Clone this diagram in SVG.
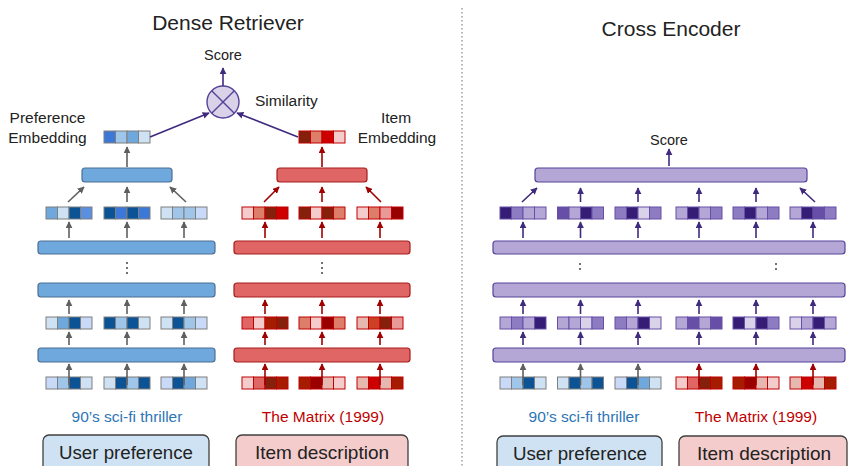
<svg xmlns="http://www.w3.org/2000/svg" width="849" height="466" viewBox="0 0 849 466">
<style>
text{font-family:"Liberation Sans",Arial,sans-serif;fill:#222}
.t{font-size:21px;text-anchor:middle}
.l{font-size:15.5px}
.m{text-anchor:middle}
.bb{fill:#6fa8dc;stroke:#4d6f94;stroke-width:1.2}
.rb{fill:#e06666;stroke:#a61c1c;stroke-width:1.2}
.pb{fill:#b4a7d6;stroke:#55439a;stroke-width:1.2}
.tb rect{stroke:#7f7f7f;stroke-width:1}
.tr rect{stroke:#c00000;stroke-width:1}
.tp rect{stroke:#674ea7;stroke-width:1}
.ag{stroke:#5f5f5f;stroke-width:1.6;fill:none;marker-end:url(#mg)}
.ar{stroke:#a00000;stroke-width:1.6;fill:none;marker-end:url(#mr)}
.ap{stroke:#3f2a7e;stroke-width:1.6;fill:none;marker-end:url(#mp)}
.dot{fill:#444}
</style>
<defs>
<marker id="mg" viewBox="0 0 10 10" refX="9" refY="5" markerWidth="7" markerHeight="7" markerUnits="userSpaceOnUse" orient="auto"><path d="M0,0L10,5L0,10z" fill="#5f5f5f"/></marker>
<marker id="mr" viewBox="0 0 10 10" refX="9" refY="5" markerWidth="7" markerHeight="7" markerUnits="userSpaceOnUse" orient="auto"><path d="M0,0L10,5L0,10z" fill="#a00000"/></marker>
<marker id="mp" viewBox="0 0 10 10" refX="9" refY="5" markerWidth="7" markerHeight="7" markerUnits="userSpaceOnUse" orient="auto"><path d="M0,0L10,5L0,10z" fill="#3f2a7e"/></marker>
<g id="cells"><rect x="0" y="0" width="11.5" height="12"/><rect x="11.5" y="0" width="11.5" height="12"/><rect x="23" y="0" width="11.5" height="12"/><rect x="34.5" y="0" width="11.5" height="12"/></g>
</defs>

<!-- separator -->
<line x1="462" y1="8" x2="462" y2="466" stroke="#8a8a8a" stroke-width="1.2" stroke-dasharray="1.5 2.5"/>

<!-- titles -->
<text class="t" x="228" y="30">Dense Retriever</text>
<text class="t" x="671" y="36">Cross Encoder</text>

<!-- ===== Dense retriever ===== -->
<g id="score-left"><text class="l m" x="223" y="60" style="font-size:14.5px">Score</text></g>
<g id="similarity">
<circle cx="223" cy="102" r="16" fill="#d9d2e9" stroke="#55439a" stroke-width="1.4"/>
<line x1="211.7" y1="90.7" x2="234.3" y2="113.3" stroke="#55439a" stroke-width="1.4"/>
<line x1="234.3" y1="90.7" x2="211.7" y2="113.3" stroke="#55439a" stroke-width="1.4"/>
<text class="l" x="255" y="106">Similarity</text>
</g>
<g id="pref-emb">
<text class="l m" x="47.5" y="123">Preference</text>
<text class="l m" x="47.5" y="143">Embedding</text>
<g class="tb" transform="translate(104,131)"><rect x="0" width="11.5" height="12" fill="#3c78d8"/><rect x="11.5" width="11.5" height="12" fill="#9fc5e8"/><rect x="23" width="11.5" height="12" fill="#6fa8dc"/><rect x="34.5" width="11.5" height="12" fill="#cfe2f3"/></g>
</g>
<g id="item-emb">
<text class="l m" x="396" y="123">Item</text>
<text class="l m" x="397" y="143">Embedding</text>
<g class="tr" transform="translate(299,131)"><rect x="0" width="11.5" height="12" fill="#85200c"/><rect x="11.5" width="11.5" height="12" fill="#dd7e6b"/><rect x="23" width="11.5" height="12" fill="#cc0000"/><rect x="34.5" width="11.5" height="12" fill="#f4cccc"/></g>
</g>

<!-- blue encoder -->
<g id="blue-pool"><rect class="bb" x="82" y="168" width="90" height="14" rx="3"/></g>
<g id="blue-row1">
<g class="tb" transform="translate(46,207)"><rect x="0" width="11.5" height="12" fill="#6fa8dc"/><rect x="11.5" width="11.5" height="12" fill="#cfe2f3"/><rect x="23" width="11.5" height="12" fill="#0b5394"/><rect x="34.5" width="11.5" height="12" fill="#5b8fe0"/></g>
<g class="tb" transform="translate(104,207)"><rect x="0" width="11.5" height="12" fill="#0b5394"/><rect x="11.5" width="11.5" height="12" fill="#3c78d8"/><rect x="23" width="11.5" height="12" fill="#0b5394"/><rect x="34.5" width="11.5" height="12" fill="#3c78d8"/></g>
<g class="tb" transform="translate(161,207)"><rect x="0" width="11.5" height="12" fill="#cfe2f3"/><rect x="11.5" width="11.5" height="12" fill="#9fc5e8"/><rect x="23" width="11.5" height="12" fill="#9fc5e8"/><rect x="34.5" width="11.5" height="12" fill="#c9daf8"/></g>
</g>
<g id="blue-bar1"><rect class="bb" x="38" y="241" width="177" height="13" rx="3"/></g>
<g id="blue-dots"><circle class="dot" cx="127" cy="263" r="1"/><circle class="dot" cx="127" cy="268" r="1"/><circle class="dot" cx="127" cy="273" r="1"/></g>
<g id="blue-bar2"><rect class="bb" x="38" y="283" width="177" height="14" rx="3"/></g>
<g id="blue-row2">
<g class="tb" transform="translate(46,317)"><rect x="0" width="11.5" height="12" fill="#cfe2f3"/><rect x="11.5" width="11.5" height="12" fill="#6fa8dc"/><rect x="23" width="11.5" height="12" fill="#0b5394"/><rect x="34.5" width="11.5" height="12" fill="#c9daf8"/></g>
<g class="tb" transform="translate(104,317)"><rect x="0" width="11.5" height="12" fill="#0b5394"/><rect x="11.5" width="11.5" height="12" fill="#9fc5e8"/><rect x="23" width="11.5" height="12" fill="#0b5394"/><rect x="34.5" width="11.5" height="12" fill="#cfe2f3"/></g>
<g class="tb" transform="translate(161,317)"><rect x="0" width="11.5" height="12" fill="#cfe2f3"/><rect x="11.5" width="11.5" height="12" fill="#0b5394"/><rect x="23" width="11.5" height="12" fill="#9fc5e8"/><rect x="34.5" width="11.5" height="12" fill="#c9daf8"/></g>
</g>
<g id="blue-bar3"><rect class="bb" x="38" y="348" width="177" height="14" rx="3"/></g>
<g id="blue-input">
<g class="tb" transform="translate(46,377)"><rect x="0" width="11.5" height="12" fill="#c9daf8"/><rect x="11.5" width="11.5" height="12" fill="#9fc5e8"/><rect x="23" width="11.5" height="12" fill="#0b5394"/><rect x="34.5" width="11.5" height="12" fill="#cfe2f3"/></g>
<g class="tb" transform="translate(104,377)"><rect x="0" width="11.5" height="12" fill="#cfe2f3"/><rect x="11.5" width="11.5" height="12" fill="#0b5394"/><rect x="23" width="11.5" height="12" fill="#9fc5e8"/><rect x="34.5" width="11.5" height="12" fill="#0b5394"/></g>
<g class="tb" transform="translate(161,377)"><rect x="0" width="11.5" height="12" fill="#c9daf8"/><rect x="11.5" width="11.5" height="12" fill="#0b5394"/><rect x="23" width="11.5" height="12" fill="#6fa8dc"/><rect x="34.5" width="11.5" height="12" fill="#cfe2f3"/></g>
</g>

<!-- red encoder -->
<g id="red-pool"><rect class="rb" x="277" y="168" width="90" height="14" rx="3"/></g>
<g id="red-row1">
<g class="tr" transform="translate(242,207)"><rect x="0" width="11.5" height="12" fill="#f4cccc"/><rect x="11.5" width="11.5" height="12" fill="#dd7e6b"/><rect x="23" width="11.5" height="12" fill="#85200c"/><rect x="34.5" width="11.5" height="12" fill="#cc0000"/></g>
<g class="tr" transform="translate(299,207)"><rect x="0" width="11.5" height="12" fill="#85200c"/><rect x="11.5" width="11.5" height="12" fill="#f4cccc"/><rect x="23" width="11.5" height="12" fill="#85200c"/><rect x="34.5" width="11.5" height="12" fill="#dd7e6b"/></g>
<g class="tr" transform="translate(357,207)"><rect x="0" width="11.5" height="12" fill="#f4cccc"/><rect x="11.5" width="11.5" height="12" fill="#dd7e6b"/><rect x="23" width="11.5" height="12" fill="#ea9999"/><rect x="34.5" width="11.5" height="12" fill="#990000"/></g>
</g>
<g id="red-bar1"><rect class="rb" x="234" y="241" width="176" height="13" rx="3"/></g>
<g id="red-dots"><circle class="dot" cx="322" cy="263" r="1"/><circle class="dot" cx="322" cy="268" r="1"/><circle class="dot" cx="322" cy="273" r="1"/></g>
<g id="red-bar2"><rect class="rb" x="234" y="283" width="176" height="14" rx="3"/></g>
<g id="red-row2">
<g class="tr" transform="translate(242,317)"><rect x="0" width="11.5" height="12" fill="#e06666"/><rect x="11.5" width="11.5" height="12" fill="#f4cccc"/><rect x="23" width="11.5" height="12" fill="#a61c00"/><rect x="34.5" width="11.5" height="12" fill="#85200c"/></g>
<g class="tr" transform="translate(299,317)"><rect x="0" width="11.5" height="12" fill="#dd7e6b"/><rect x="11.5" width="11.5" height="12" fill="#f4cccc"/><rect x="23" width="11.5" height="12" fill="#990000"/><rect x="34.5" width="11.5" height="12" fill="#dd7e6b"/></g>
<g class="tr" transform="translate(357,317)"><rect x="0" width="11.5" height="12" fill="#e6b8af"/><rect x="11.5" width="11.5" height="12" fill="#cc4125"/><rect x="23" width="11.5" height="12" fill="#85200c"/><rect x="34.5" width="11.5" height="12" fill="#ea9999"/></g>
</g>
<g id="red-bar3"><rect class="rb" x="234" y="348" width="176" height="14" rx="3"/></g>
<g id="red-input">
<g class="tr" transform="translate(242,377)"><rect x="0" width="11.5" height="12" fill="#f4cccc"/><rect x="11.5" width="11.5" height="12" fill="#e06666"/><rect x="23" width="11.5" height="12" fill="#85200c"/><rect x="34.5" width="11.5" height="12" fill="#a61c00"/></g>
<g class="tr" transform="translate(299,377)"><rect x="0" width="11.5" height="12" fill="#a61c00"/><rect x="11.5" width="11.5" height="12" fill="#990000"/><rect x="23" width="11.5" height="12" fill="#e6b8af"/><rect x="34.5" width="11.5" height="12" fill="#f4cccc"/></g>
<g class="tr" transform="translate(357,377)"><rect x="0" width="11.5" height="12" fill="#e6b8af"/><rect x="11.5" width="11.5" height="12" fill="#cc0000"/><rect x="23" width="11.5" height="12" fill="#e6b8af"/><rect x="34.5" width="11.5" height="12" fill="#a61c00"/></g>
</g>

<g id="labels-left">
<text class="l m" x="127" y="422" style="fill:#2e75b6">90’s sci-fi thriller</text>
<text class="l m" x="323" y="422" style="fill:#c00000">The Matrix (1999)</text>
</g>
<g id="user-pref-left"><rect x="43" y="435" width="166" height="40" rx="6" fill="#cfe2f3" stroke="#404040" stroke-width="1.3"/><text class="m" x="126" y="459" style="font-size:18.7px">User preference</text></g>
<g id="item-desc-left"><rect x="236" y="435" width="172" height="40" rx="6" fill="#f4cccc" stroke="#404040" stroke-width="1.3"/><text class="m" x="322" y="459" style="font-size:19px">Item description</text></g>

<!-- ===== Cross encoder ===== -->
<g id="score-right"><text class="l m" x="669" y="145" style="font-size:14.5px">Score</text></g>
<g id="p-pool"><rect class="pb" x="535" y="168" width="272" height="14" rx="3"/></g>
<g id="p-row1">
<g class="tp" transform="translate(500,207)"><rect x="0" width="11.5" height="12" fill="#351c75"/><rect x="11.5" width="11.5" height="12" fill="#8e7cc3"/><rect x="23" width="11.5" height="12" fill="#b4a7d6"/><rect x="34.5" width="11.5" height="12" fill="#b4a7d6"/></g>
<g class="tp" transform="translate(557.5,207)"><rect x="0" width="11.5" height="12" fill="#674ea7"/><rect x="11.5" width="11.5" height="12" fill="#b4a7d6"/><rect x="23" width="11.5" height="12" fill="#351c75"/><rect x="34.5" width="11.5" height="12" fill="#8e7cc3"/></g>
<g class="tp" transform="translate(615,207)"><rect x="0" width="11.5" height="12" fill="#8e7cc3"/><rect x="11.5" width="11.5" height="12" fill="#351c75"/><rect x="23" width="11.5" height="12" fill="#d9d2e9"/><rect x="34.5" width="11.5" height="12" fill="#8e7cc3"/></g>
<g class="tp" transform="translate(676,207)"><rect x="0" width="11.5" height="12" fill="#b4a7d6"/><rect x="11.5" width="11.5" height="12" fill="#351c75"/><rect x="23" width="11.5" height="12" fill="#b4a7d6"/><rect x="34.5" width="11.5" height="12" fill="#8e7cc3"/></g>
<g class="tp" transform="translate(733,207)"><rect x="0" width="11.5" height="12" fill="#8e7cc3"/><rect x="11.5" width="11.5" height="12" fill="#351c75"/><rect x="23" width="11.5" height="12" fill="#b4a7d6"/><rect x="34.5" width="11.5" height="12" fill="#8e7cc3"/></g>
<g class="tp" transform="translate(790,207)"><rect x="0" width="11.5" height="12" fill="#b4a7d6"/><rect x="11.5" width="11.5" height="12" fill="#351c75"/><rect x="23" width="11.5" height="12" fill="#674ea7"/><rect x="34.5" width="11.5" height="12" fill="#8e7cc3"/></g>
</g>
<g id="p-bar1"><rect class="pb" x="493" y="241" width="352" height="13" rx="3"/></g>
<g id="p-dots"><circle class="dot" cx="580" cy="264" r="1"/><circle class="dot" cx="580" cy="269" r="1"/><circle class="dot" cx="776" cy="264" r="1"/><circle class="dot" cx="776" cy="269" r="1"/></g>
<g id="p-bar2"><rect class="pb" x="493" y="283" width="352" height="14" rx="3"/></g>
<g id="p-row2">
<g class="tp" transform="translate(500,317)"><rect x="0" width="11.5" height="12" fill="#b4a7d6"/><rect x="11.5" width="11.5" height="12" fill="#8e7cc3"/><rect x="23" width="11.5" height="12" fill="#b4a7d6"/><rect x="34.5" width="11.5" height="12" fill="#351c75"/></g>
<g class="tp" transform="translate(557.5,317)"><rect x="0" width="11.5" height="12" fill="#b4a7d6"/><rect x="11.5" width="11.5" height="12" fill="#b4a7d6"/><rect x="23" width="11.5" height="12" fill="#d9d2e9"/><rect x="34.5" width="11.5" height="12" fill="#8e7cc3"/></g>
<g class="tp" transform="translate(615,317)"><rect x="0" width="11.5" height="12" fill="#8e7cc3"/><rect x="11.5" width="11.5" height="12" fill="#b4a7d6"/><rect x="23" width="11.5" height="12" fill="#351c75"/><rect x="34.5" width="11.5" height="12" fill="#d9d2e9"/></g>
<g class="tp" transform="translate(676,317)"><rect x="0" width="11.5" height="12" fill="#b4a7d6"/><rect x="11.5" width="11.5" height="12" fill="#674ea7"/><rect x="23" width="11.5" height="12" fill="#b4a7d6"/><rect x="34.5" width="11.5" height="12" fill="#674ea7"/></g>
<g class="tp" transform="translate(733,317)"><rect x="0" width="11.5" height="12" fill="#351c75"/><rect x="11.5" width="11.5" height="12" fill="#d9d2e9"/><rect x="23" width="11.5" height="12" fill="#351c75"/><rect x="34.5" width="11.5" height="12" fill="#8e7cc3"/></g>
<g class="tp" transform="translate(790,317)"><rect x="0" width="11.5" height="12" fill="#d9d2e9"/><rect x="11.5" width="11.5" height="12" fill="#b4a7d6"/><rect x="23" width="11.5" height="12" fill="#351c75"/><rect x="34.5" width="11.5" height="12" fill="#b4a7d6"/></g>
</g>
<g id="p-bar3"><rect class="pb" x="493" y="348" width="352" height="14" rx="3"/></g>
<g id="p-input">
<g class="tb" transform="translate(500,377)"><rect x="0" width="11.5" height="12" fill="#c9daf8"/><rect x="11.5" width="11.5" height="12" fill="#9fc5e8"/><rect x="23" width="11.5" height="12" fill="#0b5394"/><rect x="34.5" width="11.5" height="12" fill="#cfe2f3"/></g>
<g class="tb" transform="translate(557.5,377)"><rect x="0" width="11.5" height="12" fill="#cfe2f3"/><rect x="11.5" width="11.5" height="12" fill="#0b5394"/><rect x="23" width="11.5" height="12" fill="#9fc5e8"/><rect x="34.5" width="11.5" height="12" fill="#0b5394"/></g>
<g class="tb" transform="translate(615,377)"><rect x="0" width="11.5" height="12" fill="#c9daf8"/><rect x="11.5" width="11.5" height="12" fill="#0b5394"/><rect x="23" width="11.5" height="12" fill="#6fa8dc"/><rect x="34.5" width="11.5" height="12" fill="#cfe2f3"/></g>
<g class="tr" transform="translate(676,377)"><rect x="0" width="11.5" height="12" fill="#f4cccc"/><rect x="11.5" width="11.5" height="12" fill="#e06666"/><rect x="23" width="11.5" height="12" fill="#85200c"/><rect x="34.5" width="11.5" height="12" fill="#a61c00"/></g>
<g class="tr" transform="translate(733,377)"><rect x="0" width="11.5" height="12" fill="#a61c00"/><rect x="11.5" width="11.5" height="12" fill="#990000"/><rect x="23" width="11.5" height="12" fill="#e6b8af"/><rect x="34.5" width="11.5" height="12" fill="#f4cccc"/></g>
<g class="tr" transform="translate(790,377)"><rect x="0" width="11.5" height="12" fill="#e6b8af"/><rect x="11.5" width="11.5" height="12" fill="#cc0000"/><rect x="23" width="11.5" height="12" fill="#e6b8af"/><rect x="34.5" width="11.5" height="12" fill="#a61c00"/></g>
</g>
<g id="labels-right">
<text class="l m" x="584" y="422" style="fill:#2e75b6">90’s sci-fi thriller</text>
<text class="l m" x="756" y="422" style="fill:#c00000">The Matrix (1999)</text>
</g>
<g id="user-pref-right"><rect x="497" y="436" width="165" height="40" rx="6" fill="#cfe2f3" stroke="#404040" stroke-width="1.3"/><text class="m" x="580" y="460" style="font-size:18.7px">User preference</text></g>
<g id="item-desc-right"><rect x="679" y="436" width="168" height="40" rx="6" fill="#f4cccc" stroke="#404040" stroke-width="1.3"/><text class="m" x="764" y="460" style="font-size:19px">Item description</text></g>

<!-- connectors -->
<g id="connectors">
<path class="ap" d="M223,86V68"/>
<path class="ap" d="M150,137L209,113"/>
<path class="ap" d="M298,137L237,113"/>
<!-- blue -->
<path class="ag" d="M127,167V147"/>
<path class="ag" d="M68,202L84,187"/><path class="ag" d="M127,202V187"/><path class="ag" d="M186,202L170,187"/>
<path class="ag" d="M69,238V222"/><path class="ag" d="M127,238V222"/><path class="ag" d="M184,238V222"/>
<path class="ag" d="M69,314V300"/><path class="ag" d="M127,314V300"/><path class="ag" d="M184,314V300"/>
<path class="ag" d="M69,345V332"/><path class="ag" d="M127,345V332"/><path class="ag" d="M184,345V332"/>
<path class="ag" d="M69,385V364"/><path class="ag" d="M127,385V364"/><path class="ag" d="M184,385V364"/>
<!-- red -->
<path class="ar" d="M322,167V147"/>
<path class="ar" d="M264,202L279,187"/><path class="ar" d="M322,202V187"/><path class="ar" d="M381,202L366,187"/>
<path class="ar" d="M265,238V222"/><path class="ar" d="M322,238V222"/><path class="ar" d="M380,238V222"/>
<path class="ar" d="M265,314V300"/><path class="ar" d="M322,314V300"/><path class="ar" d="M380,314V300"/>
<path class="ar" d="M265,345V332"/><path class="ar" d="M322,345V332"/><path class="ar" d="M380,345V332"/>
<path class="ar" d="M265,385V364"/><path class="ar" d="M322,385V364"/><path class="ar" d="M380,385V364"/>
<!-- purple -->
<path class="ap" d="M669,166V149"/>
<path class="ap" d="M522,202L537,188"/><path class="ap" d="M580.5,202V188"/><path class="ap" d="M638,202V188"/><path class="ap" d="M699,202V188"/><path class="ap" d="M756,202V188"/><path class="ap" d="M815,202L800,188"/>
<path class="ap" d="M523,238V222"/><path class="ap" d="M580.5,238V222"/><path class="ap" d="M638,238V222"/><path class="ap" d="M699,238V222"/><path class="ap" d="M756,238V222"/><path class="ap" d="M813,238V222"/>
<path class="ap" d="M523,314V300"/><path class="ap" d="M580.5,314V300"/><path class="ap" d="M638,314V300"/><path class="ap" d="M699,314V300"/><path class="ap" d="M756,314V300"/><path class="ap" d="M813,314V300"/>
<path class="ap" d="M523,345V332"/><path class="ap" d="M580.5,345V332"/><path class="ap" d="M638,345V332"/><path class="ap" d="M699,345V332"/><path class="ap" d="M756,345V332"/><path class="ap" d="M813,345V332"/>
<path class="ag" d="M523,385V364"/><path class="ag" d="M580.5,385V364"/><path class="ag" d="M638,385V364"/>
<path class="ar" d="M699,385V364"/><path class="ar" d="M756,385V364"/><path class="ar" d="M813,385V364"/>
</g>
</svg>
